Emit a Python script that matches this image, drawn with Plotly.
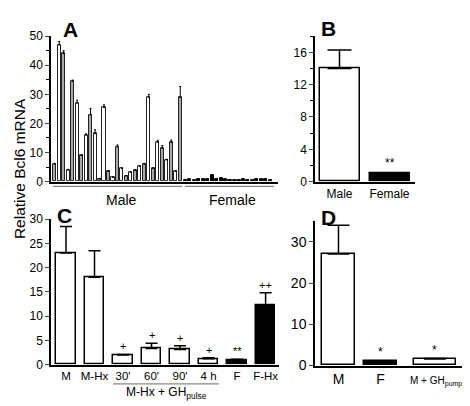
import plotly.graph_objects as go

W, H = 470, 406
FONT = "Liberation Sans, Arial, sans-serif"

# ---------- data ----------
a_male = [6, 47, 44, 4, 34.5, 27, 9, 16, 23, 16.5, 1, 25.5, 3.5, 1.5, 12, 4.5, 2,
          3.2, 3.8, 5.2, 6, 29, 4.5, 13.5, 11.5, 7.5, 13.5, 3.5, 29]
a_male_err = [0.3, 1.2, 1.0, 0.2, 0.4, 1.0, 0.2, 0.4, 2.2, 1.3, 0.1, 0.9, 0.3, 0.1, 0.6, 0.2, 0.1,
              0.1, 0.2, 0.2, 0.3, 1.0, 0.2, 0.7, 0.9, 0.2, 0.8, 0.2, 3.7]
a_female = [0.5, 0.7, 0.5, 0.9, 0.9, 0.9, 2.3, 1.0, 1.2, 0.7, 0.6, 0.5, 0.6, 0.8,
            0.6, 0.5, 0.8, 0.7, 0.9, 0.6]
a_female_err = [0.1] * len(a_female)

b_cats = ["Male", "Female"]
b_vals = [14.0, 1.0]
b_err = [2.3, 0.1]

c_cats = ["M", "M-Hx", "30'", "60'", "90'", "4 h", "F", "F-Hx"]
c_vals = [23.0, 18.0, 2.0, 3.3, 3.1, 1.2, 1.0, 12.3]
c_err = [5.5, 5.5, 0.1, 1.1, 0.8, 0.2, 0.1, 2.5]
c_fill = ["white"] * 6 + ["black", "black"]
c_marks = ["", "", "+", "+", "+", "+", "**", "++"]

d_cats = ["M", "F", "M + GH<sub>pump</sub>"]
d_pos = [0, 1, 2.3]
d_width = [0.79, 0.79, 1.0]
d_vals = [27.0, 1.0, 1.6]
d_err = [7.0, 0.1, 0.1]
d_fill = ["white", "black", "white"]
d_marks = ["", "*", "*"]

fig = go.Figure()

# ---------- Panel A ----------
male_x = list(range(len(a_male)))
fem_x = [29.1 + j for j in range(len(a_female))]
male_fill = ["#a8a8a8" if i % 2 == 0 else "white" for i in range(len(a_male))]
fig.add_bar(x=male_x, y=a_male, width=0.68, marker=dict(color=male_fill, line=dict(color="#222222", width=1)),
            error_y=dict(type="data", array=a_male_err, arrayminus=[0] * len(a_male), symmetric=False,
                         color="black", thickness=1, width=1),
            xaxis="x", yaxis="y")
fig.add_bar(x=fem_x, y=a_female, width=0.68, marker=dict(color="black", line=dict(color="black", width=1)),
            error_y=dict(type="data", array=a_female_err, arrayminus=[0] * len(a_female), symmetric=False,
                         color="black", thickness=1, width=1),
            xaxis="x", yaxis="y")

# ---------- Panel B ----------
fig.add_bar(x=[0, 1], y=b_vals, width=0.8, marker=dict(color=["white", "black"], line=dict(color="black", width=1.5)),
            error_y=dict(type="data", array=b_err, arrayminus=[0, 0], symmetric=False,
                         color="black", thickness=1.5, width=12),
            xaxis="x2", yaxis="y2")

# ---------- Panel C ----------
c_x = list(range(len(c_cats)))
fig.add_bar(x=c_x, y=c_vals, width=0.68, marker=dict(color=c_fill, line=dict(color="black", width=1.5)),
            error_y=dict(type="data", array=c_err, arrayminus=[0] * len(c_vals), symmetric=False,
                         color="black", thickness=1.5, width=6),
            xaxis="x3", yaxis="y3")

# ---------- Panel D ----------
fig.add_bar(x=d_pos, y=d_vals, width=d_width, marker=dict(color=d_fill, line=dict(color="black", width=1.5)),
            error_y=dict(type="data", array=d_err, arrayminus=[0] * len(d_vals), symmetric=False,
                         color="black", thickness=1.5, width=11),
            xaxis="x4", yaxis="y4")


def px_x(p):
    return p / W


def px_y(p):
    return 1 - p / H


axis_common = dict(showline=True, linecolor="black", linewidth=1.5, showgrid=False, zeroline=False,
                   tickfont=dict(family=FONT, size=12, color="black"), fixedrange=True)

layout = dict(
    width=W, height=H, margin=dict(l=0, r=0, t=0, b=0),
    paper_bgcolor="white", plot_bgcolor="white", showlegend=False, bargap=0,
    font=dict(family=FONT, color="black"),
    xaxis=dict(domain=[px_x(43), px_x(270)], range=[-0.82, 49.8], anchor="y",
               showticklabels=False, ticks="", **axis_common),
    yaxis=dict(domain=[px_y(173), px_y(22)], range=[0, 50], anchor="x", ticks="outside", ticklen=4,
               tickwidth=1.2, dtick=10, minor=dict(dtick=5, ticks="outside", ticklen=3, tickcolor="black"),
               **axis_common),
    xaxis2=dict(domain=[px_x(307), px_x(407)], range=[-0.49, 1.51], anchor="y2",
                tickvals=[0, 1], ticktext=b_cats, ticks="", **axis_common),
    yaxis2=dict(domain=[px_y(173), px_y(22)], range=[0, 18], anchor="x2", ticks="outside", ticklen=4,
                tickwidth=1.2, tickvals=[0, 4, 8, 12, 16],
                minor=dict(tickvals=[2, 6, 10, 14, 18], ticks="outside", ticklen=3, tickcolor="black"),
                **axis_common),
    xaxis3=dict(domain=[px_x(43), px_x(271)], range=[-0.526, 7.47], anchor="y3",
                tickvals=c_x, ticktext=c_cats, ticks="",
                **{**axis_common, "tickfont": dict(family=FONT, size=11.5, color="black")}),
    yaxis3=dict(domain=[px_y(363), px_y(212)], range=[0, 30], anchor="x3", ticks="outside", ticklen=4,
                tickwidth=1.2, dtick=5, **axis_common),
    xaxis4=dict(domain=[px_x(307), px_x(458)], range=[-0.56, 3.04], anchor="y4",
                tickvals=d_pos[:2], ticktext=d_cats[:2], ticks="",
                **{**axis_common, "tickfont": dict(family=FONT, size=14, color="black")}),
    yaxis4=dict(domain=[px_y(364), px_y(214)], range=[0, 35], anchor="x4", ticks="outside", ticklen=4,
                tickwidth=1.2, tickvals=[0, 10, 20, 30],
                **{**axis_common, "tickfont": dict(family=FONT, size=14, color="black")}),
)
fig.update_layout(**layout)


def paper_text(text, x, y, size, angle=0):
    return dict(text=text, x=px_x(x), y=px_y(y), xref="paper", yref="paper", xanchor="center",
                yanchor="middle", showarrow=False, textangle=angle,
                font=dict(family=FONT, size=size, color="black"))


ann = []
# panel letters
for letter, x, y in [("A", 62, 15), ("B", 320, 14), ("C", 56, 208), ("D", 320, 210)]:
    ann.append(paper_text(f"<b>{letter}</b>", x, y, 21))
# y title
ann.append(paper_text("Relative Bcl6 mRNA", 11, 160, 15.5, angle=-90))
# panel A group labels
ann.append(paper_text("Male", 113, 192, 14))
ann.append(paper_text("Female", 224, 192, 14))
# B marker
ann.append(dict(text="**", x=1, y=b_vals[1] + b_err[1], xref="x2", yref="y2", yanchor="bottom",
                xanchor="center", showarrow=False, yshift=1, font=dict(family=FONT, size=12, color="black")))
# C markers
for xi, v, e, m in zip(c_x, c_vals, c_err, c_marks):
    if m:
        ann.append(dict(text=m, x=xi, y=v + e, xref="x3", yref="y3", yanchor="bottom", xanchor="center",
                        showarrow=False, yshift=0, font=dict(family=FONT, size=11, color="black")))
# C group label
ann.append(paper_text("M-Hx + GH<sub>pulse</sub>", 158, 393, 12))
# D markers
for xi, v, e, m in zip(d_pos, d_vals, d_err, d_marks):
    if m:
        ann.append(dict(text=m, x=xi, y=v + e, xref="x4", yref="y4", yanchor="bottom", xanchor="center",
                        showarrow=False, yshift=0, font=dict(family=FONT, size=12, color="black")))
# D third label
ann.append(dict(text=d_cats[2], x=d_pos[2], y=0, xref="x4", yref="y4", yanchor="top", xanchor="center",
                yshift=-7, xshift=1, showarrow=False, font=dict(family=FONT, size=10, color="black")))
fig.update_layout(annotations=ann)

shapes = [
    dict(type="line", xref="paper", yref="paper", x0=px_x(45), x1=px_x(174), y0=px_y(178), y1=px_y(178),
         line=dict(color="#888888", width=1.2)),
    dict(type="line", xref="paper", yref="paper", x0=px_x(177), x1=px_x(266), y0=px_y(178), y1=px_y(178),
         line=dict(color="#888888", width=1.2)),
    dict(type="line", xref="paper", yref="paper", x0=px_x(105), x1=px_x(211), y0=px_y(383), y1=px_y(383),
         line=dict(color="#888888", width=1.2)),
]
fig.update_layout(shapes=shapes)

fig.write_html("out.html")
